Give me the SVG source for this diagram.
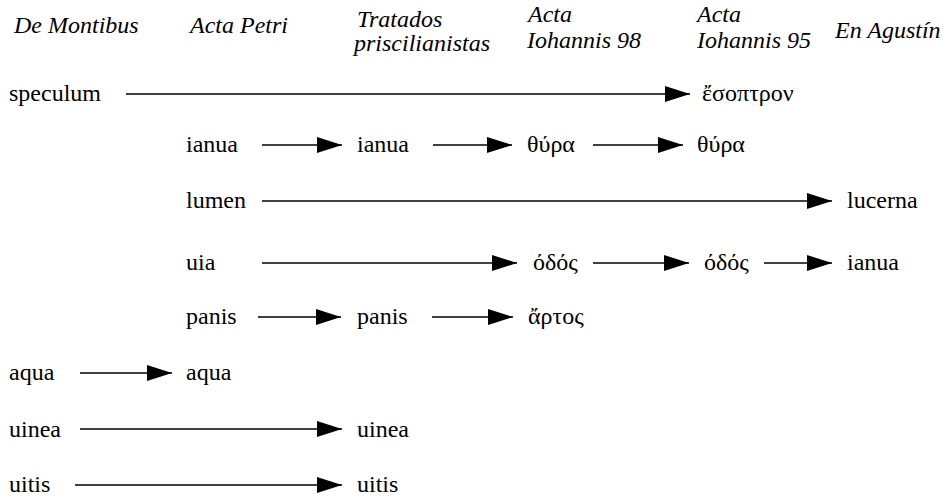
<svg xmlns="http://www.w3.org/2000/svg" width="949" height="497" viewBox="0 0 949 497">
  <style>
    text { font-family: 'Liberation Serif', 'Times New Roman', 'DejaVu Serif', serif; font-size: 24px; fill: #000; }
    .hd { font-style: italic; }
    .ln { stroke: #000; stroke-width: 1.7; fill: none; marker-end: url(#ah); }
  </style>
  <defs>
    <!-- solid triangular arrowhead, tip on the line end -->
    <marker id="ah" markerUnits="userSpaceOnUse" markerWidth="26" markerHeight="18" refX="25" refY="8" orient="auto">
      <path d="M0,0 L25,8 L0,16 z" fill="#000"/>
    </marker>
  </defs>
  <rect width="949" height="497" fill="#fff"/>

  <!-- column headings -->
  <g id="headers">
    <text class="hd" x="14" y="33">De Montibus</text>
    <text class="hd" x="190" y="33">Acta Petri</text>
    <text class="hd" x="357" y="27">Tratados</text>
    <text class="hd" x="354" y="51">priscilianistas</text>
    <text class="hd" x="528" y="22">Acta</text>
    <text class="hd" x="527" y="48">Iohannis 98</text>
    <text class="hd" x="697" y="22">Acta</text>
    <text class="hd" x="697" y="48">Iohannis 95</text>
    <text class="hd" x="835" y="38">En Agustín</text>
  </g>

  <!-- terms -->
  <g id="n-speculum"><text x="9" y="101">speculum</text></g>
  <g id="n-esoptron"><text x="702" y="101">ἔσοπτρον</text></g>

  <g id="n-ianua1"><text x="186" y="152">ianua</text></g>
  <g id="n-ianua2"><text x="357" y="152">ianua</text></g>
  <g id="n-thyra1"><text x="527" y="152">θύρα</text></g>
  <g id="n-thyra2"><text x="697" y="152">θύρα</text></g>

  <g id="n-lumen"><text x="186" y="208">lumen</text></g>
  <g id="n-lucerna"><text x="847" y="208">lucerna</text></g>

  <g id="n-uia"><text x="186" y="270">uia</text></g>
  <g id="n-hodos1"><text x="533" y="270">όδός</text></g>
  <g id="n-hodos2"><text x="704" y="270">όδός</text></g>
  <g id="n-ianua3"><text x="847" y="270">ianua</text></g>

  <g id="n-panis1"><text x="186" y="324">panis</text></g>
  <g id="n-panis2"><text x="357" y="324">panis</text></g>
  <g id="n-artos"><text x="528" y="324">ἄρτος</text></g>

  <g id="n-aqua1"><text x="9" y="380">aqua</text></g>
  <g id="n-aqua2"><text x="186" y="380">aqua</text></g>

  <g id="n-uinea1"><text x="9" y="437">uinea</text></g>
  <g id="n-uinea2"><text x="357" y="437">uinea</text></g>

  <g id="n-uitis1"><text x="9" y="492">uitis</text></g>
  <g id="n-uitis2"><text x="357" y="492">uitis</text></g>

  <!-- connectors -->
  <g id="connectors">
    <line class="ln" x1="126" y1="94" x2="690" y2="94"/>
    <line class="ln" x1="262" y1="145" x2="342" y2="145"/>
    <line class="ln" x1="433" y1="145" x2="512" y2="145"/>
    <line class="ln" x1="593" y1="145" x2="683" y2="145"/>
    <line class="ln" x1="262" y1="201" x2="832" y2="201"/>
    <line class="ln" x1="262" y1="263" x2="517" y2="263"/>
    <line class="ln" x1="593" y1="263" x2="689" y2="263"/>
    <line class="ln" x1="764" y1="263" x2="832" y2="263"/>
    <line class="ln" x1="258" y1="317" x2="341" y2="317"/>
    <line class="ln" x1="432" y1="317" x2="513" y2="317"/>
    <line class="ln" x1="80" y1="373" x2="172" y2="373"/>
    <line class="ln" x1="80" y1="429" x2="342" y2="429"/>
    <line class="ln" x1="75" y1="485" x2="342" y2="485" stroke-width="2.2"/>
  </g>
</svg>
